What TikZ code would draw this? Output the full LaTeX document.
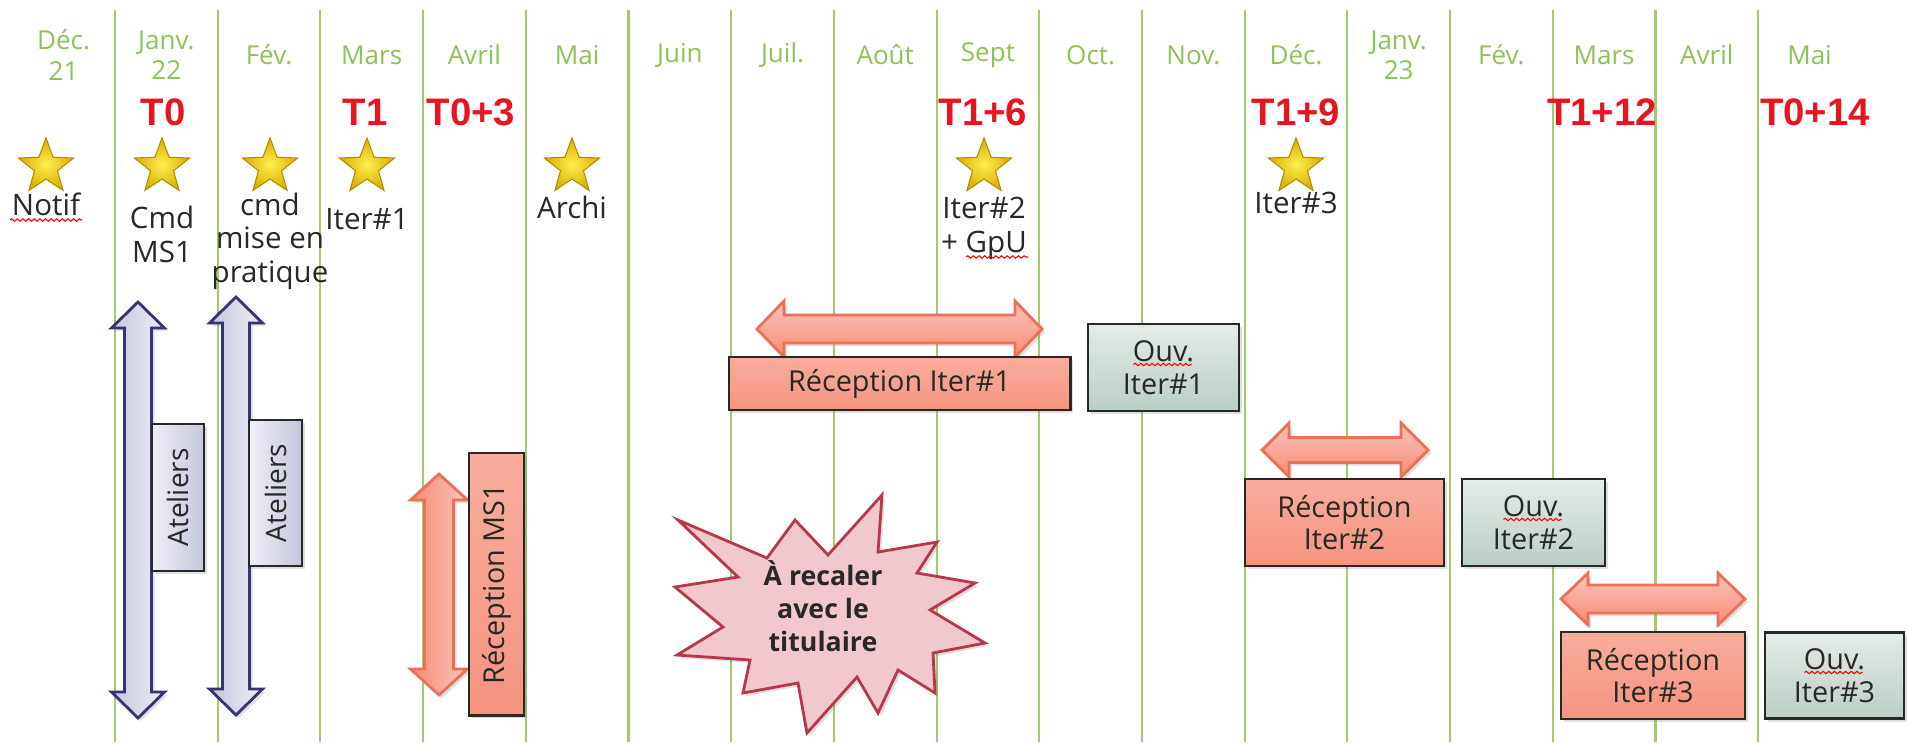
\documentclass[tikz,border=0pt]{standalone}
\usepackage{fontspec}
\setmainfont{Open Sans}
\newfontfamily\tfont{Liberation Sans}
\usetikzlibrary{shapes.geometric,shadows,decorations.pathmorphing}

\definecolor{gridgreen}{RGB}{160,205,105}
\definecolor{monthgreen}{RGB}{140,195,85}
\definecolor{tred}{RGB}{232,20,30}
\definecolor{txtgray}{RGB}{40,40,40}
\definecolor{lavdark}{RGB}{55,52,115}
\definecolor{lavA}{RGB}{196,198,220}
\definecolor{lavB}{RGB}{238,239,246}
\definecolor{salline}{RGB}{235,112,88}
\definecolor{salA}{RGB}{245,138,115}
\definecolor{salB}{RGB}{252,198,186}
\definecolor{ouvline}{RGB}{45,105,88}
\definecolor{ouvA}{RGB}{228,236,232}
\definecolor{ouvB}{RGB}{186,206,196}
\definecolor{burstline}{RGB}{185,55,75}
\definecolor{burstfill}{RGB}{241,200,206}
\definecolor{stargold}{RGB}{180,140,0}
\definecolor{staredge}{RGB}{215,175,0}
\definecolor{starmid}{RGB}{255,238,80}

% vertical double arrow: style, x, top, bottom, shaft half width, head half width
\newcommand{\varr}[6]{%
  \draw[#1] (#2,#3) -- ({#2+#6},{#3+26}) -- ({#2+#5},{#3+26}) -- ({#2+#5},{#4-26})
    -- ({#2+#6},{#4-26}) -- (#2,#4) -- ({#2-#6},{#4-26}) -- ({#2-#5},{#4-26})
    -- ({#2-#5},{#3+26}) -- ({#2-#6},{#3+26}) -- cycle;}
% horizontal double arrow: style, y, left, right, shaft half width, head half width
\newcommand{\harr}[6]{%
  \draw[#1] (#3,#2) -- ({#3+27},{#2-#6}) -- ({#3+27},{#2-#5}) -- ({#4-27},{#2-#5})
    -- ({#4-27},{#2-#6}) -- (#4,#2) -- ({#4-27},{#2+#6}) -- ({#4-27},{#2+#5})
    -- ({#3+27},{#2+#5}) -- ({#3+27},{#2+#6}) -- cycle;}

\tikzset{
  grid/.style={gridgreen, line width=0.6pt},
  month/.style={monthgreen, align=center, inner sep=0pt,
    font=\fontsize{7.4}{8.6}\selectfont},
  jalon/.style={tred, anchor=base, inner sep=0pt,
    font=\tfont\bfseries\fontsize{10.9}{12}\selectfont},
  etoile/.style={star, star points=5, star point ratio=2.4, minimum size=5.8mm,
    inner sep=0pt, draw=stargold, line width=0.3pt,
    inner color=starmid, outer color=staredge},
  lbl/.style={txtgray, align=center, anchor=base, inner sep=0pt,
    font=\fontsize{8.4}{9.4}\selectfont},
  spell/.style={red, line width=0.3pt, decorate,
    decoration={snake, amplitude=0.35pt, segment length=1.6pt}},
  shade/.style={drop shadow={opacity=0.25, shadow xshift=0.3mm, shadow yshift=-0.3mm}},
  lavarrow/.style={draw=lavdark, line width=0.8pt, left color=lavA, right color=lavB, shade},
  salarrow/.style={draw=salline, line width=0.8pt, left color=salA, right color=salB, shade},
  salarrowh/.style={draw=salline, line width=0.8pt, top color=salB, bottom color=salA, shade},
  lavbox/.style={draw=lavdark, line width=0.8pt, left color=lavB, right color=lavA,
    txtgray, inner sep=0pt, font=\fontsize{8}{9.5}\selectfont, shade},
  recbox/.style={draw=salline, line width=0.8pt, top color=salA!70!white, bottom color=salA!92!white,
    txtgray, align=center, inner sep=0pt, font=\fontsize{8.2}{9.2}\selectfont, shade},
  ouvbox/.style={draw=ouvline, line width=0.8pt, top color=ouvA, bottom color=ouvB,
    txtgray, align=center, inner sep=0pt, font=\fontsize{8.2}{9.5}\selectfont, shade},
}

\begin{document}
\begin{tikzpicture}[x=0.01cm, y=-0.01cm]
\useasboundingbox (0,0) rectangle (1907,742);
\fill[white] (0,0) rectangle (1907,742);

% months
\foreach \i in {0,...,16}
  \draw[grid] ({115+102.7*\i},10) -- ({115+102.7*\i},742);
\foreach \m [count=\i from 0] in {{Déc.\\21},{Janv.\\22},Fév.,Mars,Avril,Mai,Juin,Juil.,Août,Sept,Oct.,Nov.,Déc.,{Janv.\\23},Fév.,Mars,Avril,Mai}
  \node[month] (m\i) at ({63.6+102.7*\i},55) {\m};

% jalons
\foreach \x/\t [count=\i] in {163/T0, 365/T1, 471/T0+3, 983/T1+6, 1296/T1+9, 1602/T1+12, 1815/T0+14}
  \node[jalon] (j\i) at (\x,125) {\t};

% stars (label base = last line)
\foreach \x/\yb/\t [count=\i] in {46/215/{Notif}, 162/262/{Cmd\\MS1}, 270/282/{cmd\\mise en\\pratique},
    367/229/{Iter\#1}, 572/218/{Archi}, 984/252/{Iter\#2\\+ GpU}, 1296/213/{Iter\#3}}{
  \node[etoile] (s\i) at (\x,167) {};
  \node[lbl] (l\i) at (\x,\yb) {\t};
}
\draw[spell] ([shift={(-36,5)}]l1.base) -- ([shift={(36,5)}]l1.base);
\draw[spell] ([shift={(-18,5)}]l6.base) -- ([shift={(44,5)}]l6.base);

% ateliers
\varr{lavarrow}{138}{302}{718}{13.5}{26.5}
\varr{lavarrow}{236}{297}{715}{13.5}{26.5}
\node[lavbox, rotate=90, minimum width=14.7mm, minimum height=5.2mm] (at1) at (178,497.5) {Ateliers};
\node[lavbox, rotate=90, minimum width=14.6mm, minimum height=5.3mm] (at2) at (275.5,493) {Ateliers};

% reception MS1
\varr{salarrow}{439}{474}{695}{14.5}{28.5}
\node[recbox, rotate=90, minimum width=26.2mm, minimum height=5.5mm] (recMS) at (496.5,584) {Réception MS1};

% iterations
\harr{salarrowh}{329}{757}{1042}{14}{28}
\node[recbox, minimum width=34.1mm, minimum height=5.3mm] (rec1) at (899.5,383.5) {Réception Iter\#1};
\node[ouvbox, minimum width=15.1mm, minimum height=8.7mm] (ouv1) at (1163.5,367.5) {Ouv.\\Iter\#1};

\harr{salarrowh}{450}{1262}{1428}{12.5}{27}
\node[recbox, minimum width=19.9mm, minimum height=8.7mm] (rec2) at (1344.5,522.5) {Réception\\Iter\#2};
\node[ouvbox, minimum width=14.3mm, minimum height=8.7mm] (ouv2) at (1533.5,522.5) {Ouv.\\Iter\#2};

\harr{salarrowh}{599}{1561}{1745}{14}{26}
\node[recbox, minimum width=18.4mm, minimum height=8.7mm] (rec3) at (1653,675.5) {Réception\\Iter\#3};
\node[ouvbox, minimum width=13.9mm, minimum height=8.6mm] (ouv3) at (1834.5,675.5) {Ouv.\\Iter\#3};
\foreach \b in {ouv1,ouv2,ouv3}
  \draw[spell] ([shift={(-30,-3)}]\b.center) -- ([shift={(28,-3)}]\b.center);

% a recaler
\draw[draw=burstline, fill=burstfill, line width=0.8pt, shade]
  (678,520) -- (767,558) -- (795,520) -- (828,555) -- (882,495) -- (878,552)
  -- (937,542) -- (917,573) -- (975,583) -- (930,610) -- (985,643) -- (933,653)
  -- (935,693) -- (898,670) -- (878,713) -- (857,677) -- (807,733) -- (798,683)
  -- (743,693) -- (750,660) -- (677,655) -- (723,627) -- (675,587) -- (738,577) -- cycle;
\node[txtgray, align=center, inner sep=0pt, font=\bfseries\fontsize{7.6}{9.4}\selectfont] (burst) at (823,606) {À recaler\\avec le\\titulaire};
\end{tikzpicture}
\end{document}
